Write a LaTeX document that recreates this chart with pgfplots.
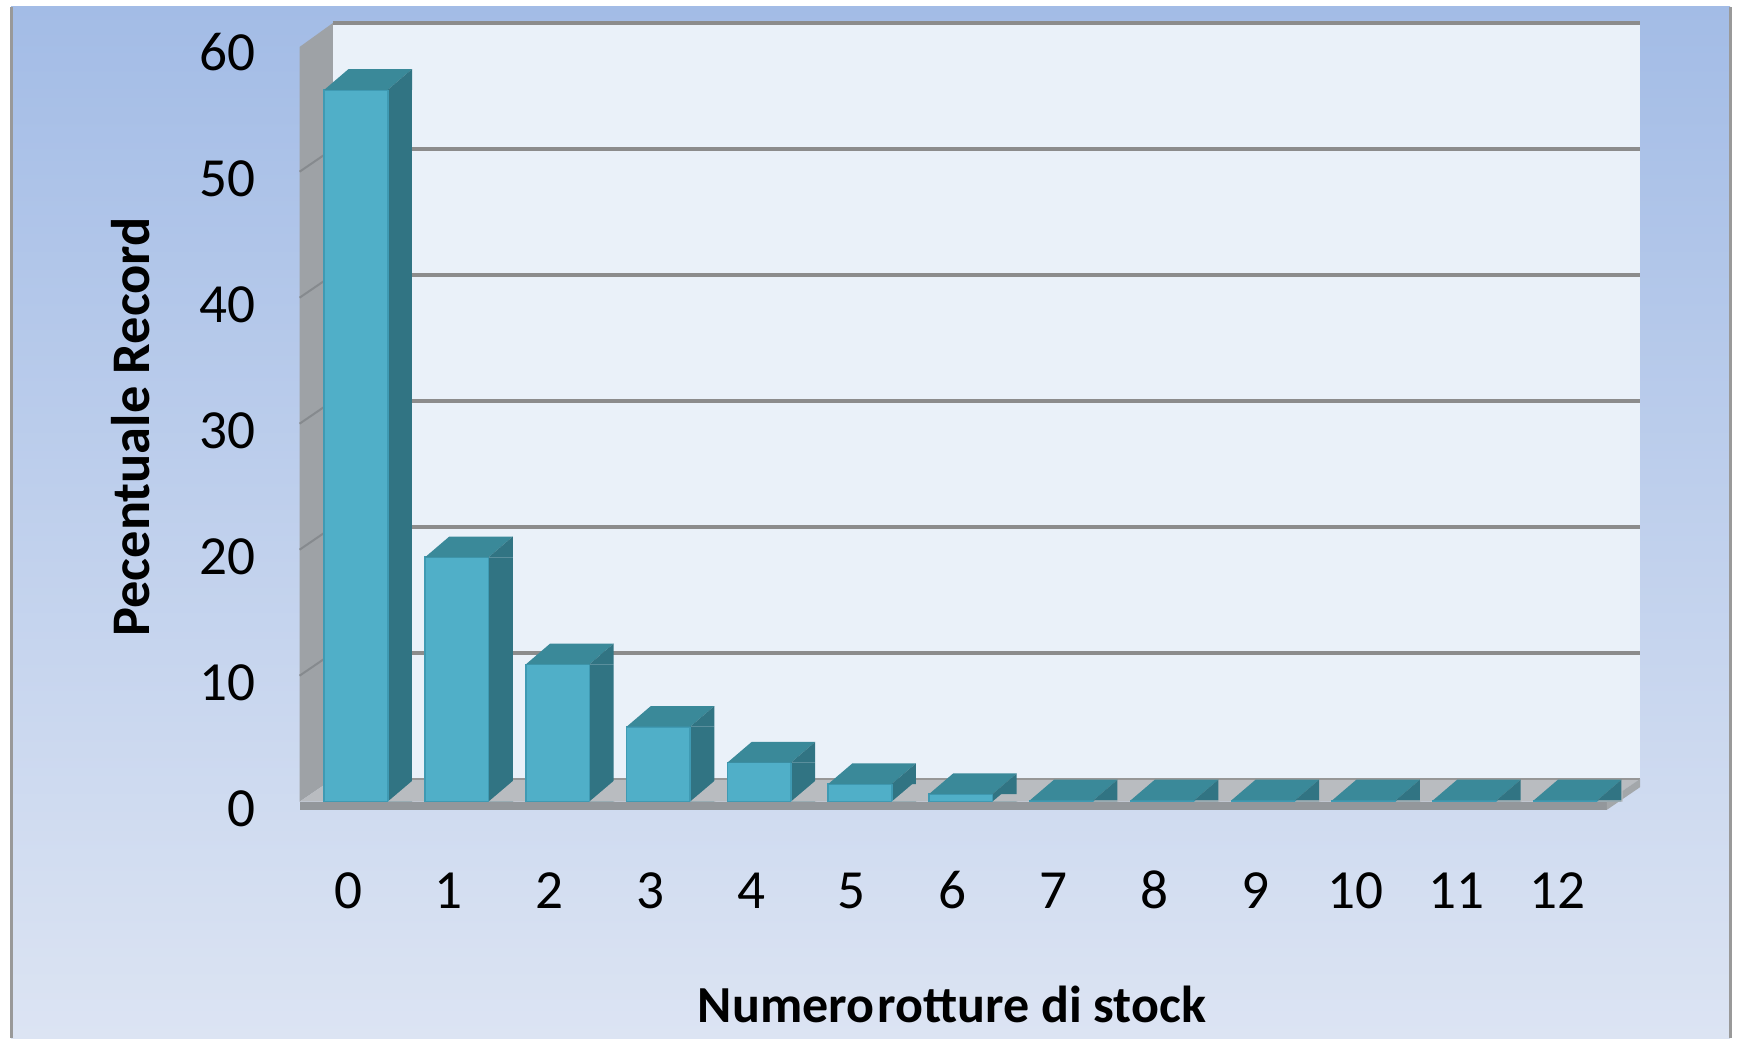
\documentclass[border=0pt]{standalone}
\usepackage{fontspec}
\setmainfont{Carlito}
\usepackage{pgfplots}
\pgfplotsset{compat=1.18}
\usepackage{pgfplotstable}

\definecolor{bgtop}{HTML}{A3BCE6}
\definecolor{bgbot}{HTML}{DCE4F3}
\definecolor{wall}{HTML}{EAF1F9}
\definecolor{sidewall}{HTML}{9EA2A6}
\definecolor{sideline}{HTML}{868A8E}
\definecolor{floorc}{HTML}{B9BCC0}
\definecolor{flooredge}{HTML}{93979B}
\definecolor{gridc}{HTML}{8C8C8C}
\definecolor{barfront}{HTML}{50AFC8}
\definecolor{barline}{HTML}{3F9AB3}
\definecolor{bartop}{HTML}{3A8999}
\definecolor{barside}{HTML}{317483}

\pgfplotstableread{
x v
0 56.5
1 19.4
2 10.9
3 5.95
4 3.1
5 1.4
6 0.6
7 0.1
8 0.1
9 0.1
10 0.1
11 0.1
12 0.1
}\data

\pgfdeclareplotmark{bartopmark}{%
  \pgfpathmoveto{\pgfqpoint{-7.94pt}{0pt}}%
  \pgfpathlineto{\pgfqpoint{7.94pt}{0pt}}%
  \pgfpathlineto{\pgfqpoint{13.99pt}{5.17pt}}%
  \pgfpathlineto{\pgfqpoint{-1.89pt}{5.17pt}}%
  \pgfpathclose
  \pgfsetfillcolor{bartop}%
  \pgfusepathqfill
  \pgfpathmoveto{\pgfqpoint{7.94pt}{0pt}}%
  \pgfpathlineto{\pgfqpoint{13.99pt}{5.17pt}}%
  \pgfpathlineto{\pgfqpoint{13.99pt}{0pt}}%
  \pgfpathclose
  \pgfsetfillcolor{barside}%
  \pgfusepathqfill
}
\pgfdeclareplotmark{floorcover}{%
  \pgfpathmoveto{\pgfqpoint{7.94pt}{0pt}}%
  \pgfpathlineto{\pgfqpoint{14.3pt}{0pt}}%
  \pgfpathlineto{\pgfqpoint{14.3pt}{5.4pt}}%
  \pgfpathclose
  \pgfsetfillcolor{floorc}%
  \pgfusepathqfill
}

\begin{document}
\begin{tikzpicture}
\useasboundingbox (0,0) rectangle (435pt,259.5pt);
\fill[white] (0,0) rectangle (435pt,259.5pt);
\shade[top color=bgtop, bottom color=bgbot] (2.75pt,0) rectangle (432.5pt,257.75pt);
\draw[gray!80, line width=0.75pt] (2.75pt,0) -- (2.75pt,257.75pt);
\draw[gray!80, line width=0.75pt] (432.5pt,0) -- (432.5pt,257.75pt);

\begin{axis}[
  at={(74.9pt,55.93pt)}, anchor=south west,
  scale only axis, width=335.1pt, height=198.45pt,
  xmin=-0.56, xmax=12.74, ymin=-1, ymax=62,
  axis line style={draw=none}, tick style={draw=none},
  xtick={0,1,...,12}, ytick={0,10,...,60},
  /pgf/number format/assume math mode=true,
  ticklabel style={font=\fontsize{13.8}{16}\selectfont},
  yticklabel style={xshift=-7.6pt, yshift=-1.7pt},
  xticklabel style={anchor=base, yshift=-23.5pt, xshift=-2pt},
  xlabel={Numero\hspace{0.06em}rotture di stock},
  ylabel={Pecentuale Record},
  label style={font=\fontsize{13.6}{16}\selectfont\bfseries},
  xlabel style={at={(axis description cs:0.4867,-0.239)}, anchor=center, font=\fontsize{13}{16}\selectfont\bfseries},
  ylabel style={at={(axis description cs:-0.1258,0.488)}, anchor=center},
  clip=false,
]
% back wall
\fill[wall] (axis cs:-0.23,1.8) rectangle (axis cs:12.74,61.8);
% side wall
\fill[sidewall] (axis cs:-0.56,0) -- (axis cs:-0.56,59.9) -- (axis cs:-0.23,61.8) -- (axis cs:-0.23,1.8) -- cycle;
\draw[sideline, line width=0.5pt] (axis cs:-0.56,10) -- (axis cs:-0.23,11.8);
\draw[sideline, line width=0.5pt] (axis cs:-0.56,20) -- (axis cs:-0.23,21.8);
\draw[sideline, line width=0.5pt] (axis cs:-0.56,30) -- (axis cs:-0.23,31.8);
\draw[sideline, line width=0.5pt] (axis cs:-0.56,40) -- (axis cs:-0.23,41.8);
\draw[sideline, line width=0.5pt] (axis cs:-0.56,50) -- (axis cs:-0.23,51.8);
% gridlines
\pgfplotsinvokeforeach{11.8,21.8,31.8,41.8,51.8,61.8}{
  \draw[gridc, line width=0.8pt] (axis cs:-0.23,#1) -- (axis cs:12.74,#1);
}
% floor
\fill[floorc] (axis cs:-0.56,0) -- (axis cs:12.41,0) -- (axis cs:12.74,1.8) -- (axis cs:-0.23,1.8) -- cycle;
\draw[gridc!90, line width=0.6pt] (axis cs:-0.23,1.8) -- (axis cs:12.74,1.8);
\fill[flooredge] (axis cs:-0.56,-0.65) rectangle (axis cs:12.41,0);
\fill[flooredge!85] (axis cs:12.41,-0.65) -- (axis cs:12.41,0) -- (axis cs:12.74,1.8) -- (axis cs:12.74,1.15) -- cycle;

% bar sides
\addplot[ybar, bar width=0.24, bar shift=0pt, fill=barside, draw=none]
  table[x expr=\thisrow{x}+0.435, y=v] {\data};
% bar fronts
\addplot[ybar, bar width=0.63, bar shift=0pt, fill=barfront, draw=barline, line width=0.4pt]
  table[x=x, y=v] {\data};
% floor under side faces
\addplot[only marks, mark=floorcover] table[x=x, y expr=0] {\data};
% bar tops
\addplot[only marks, mark=bartopmark] table[x=x, y=v] {\data};
\end{axis}
\end{tikzpicture}
\end{document}
